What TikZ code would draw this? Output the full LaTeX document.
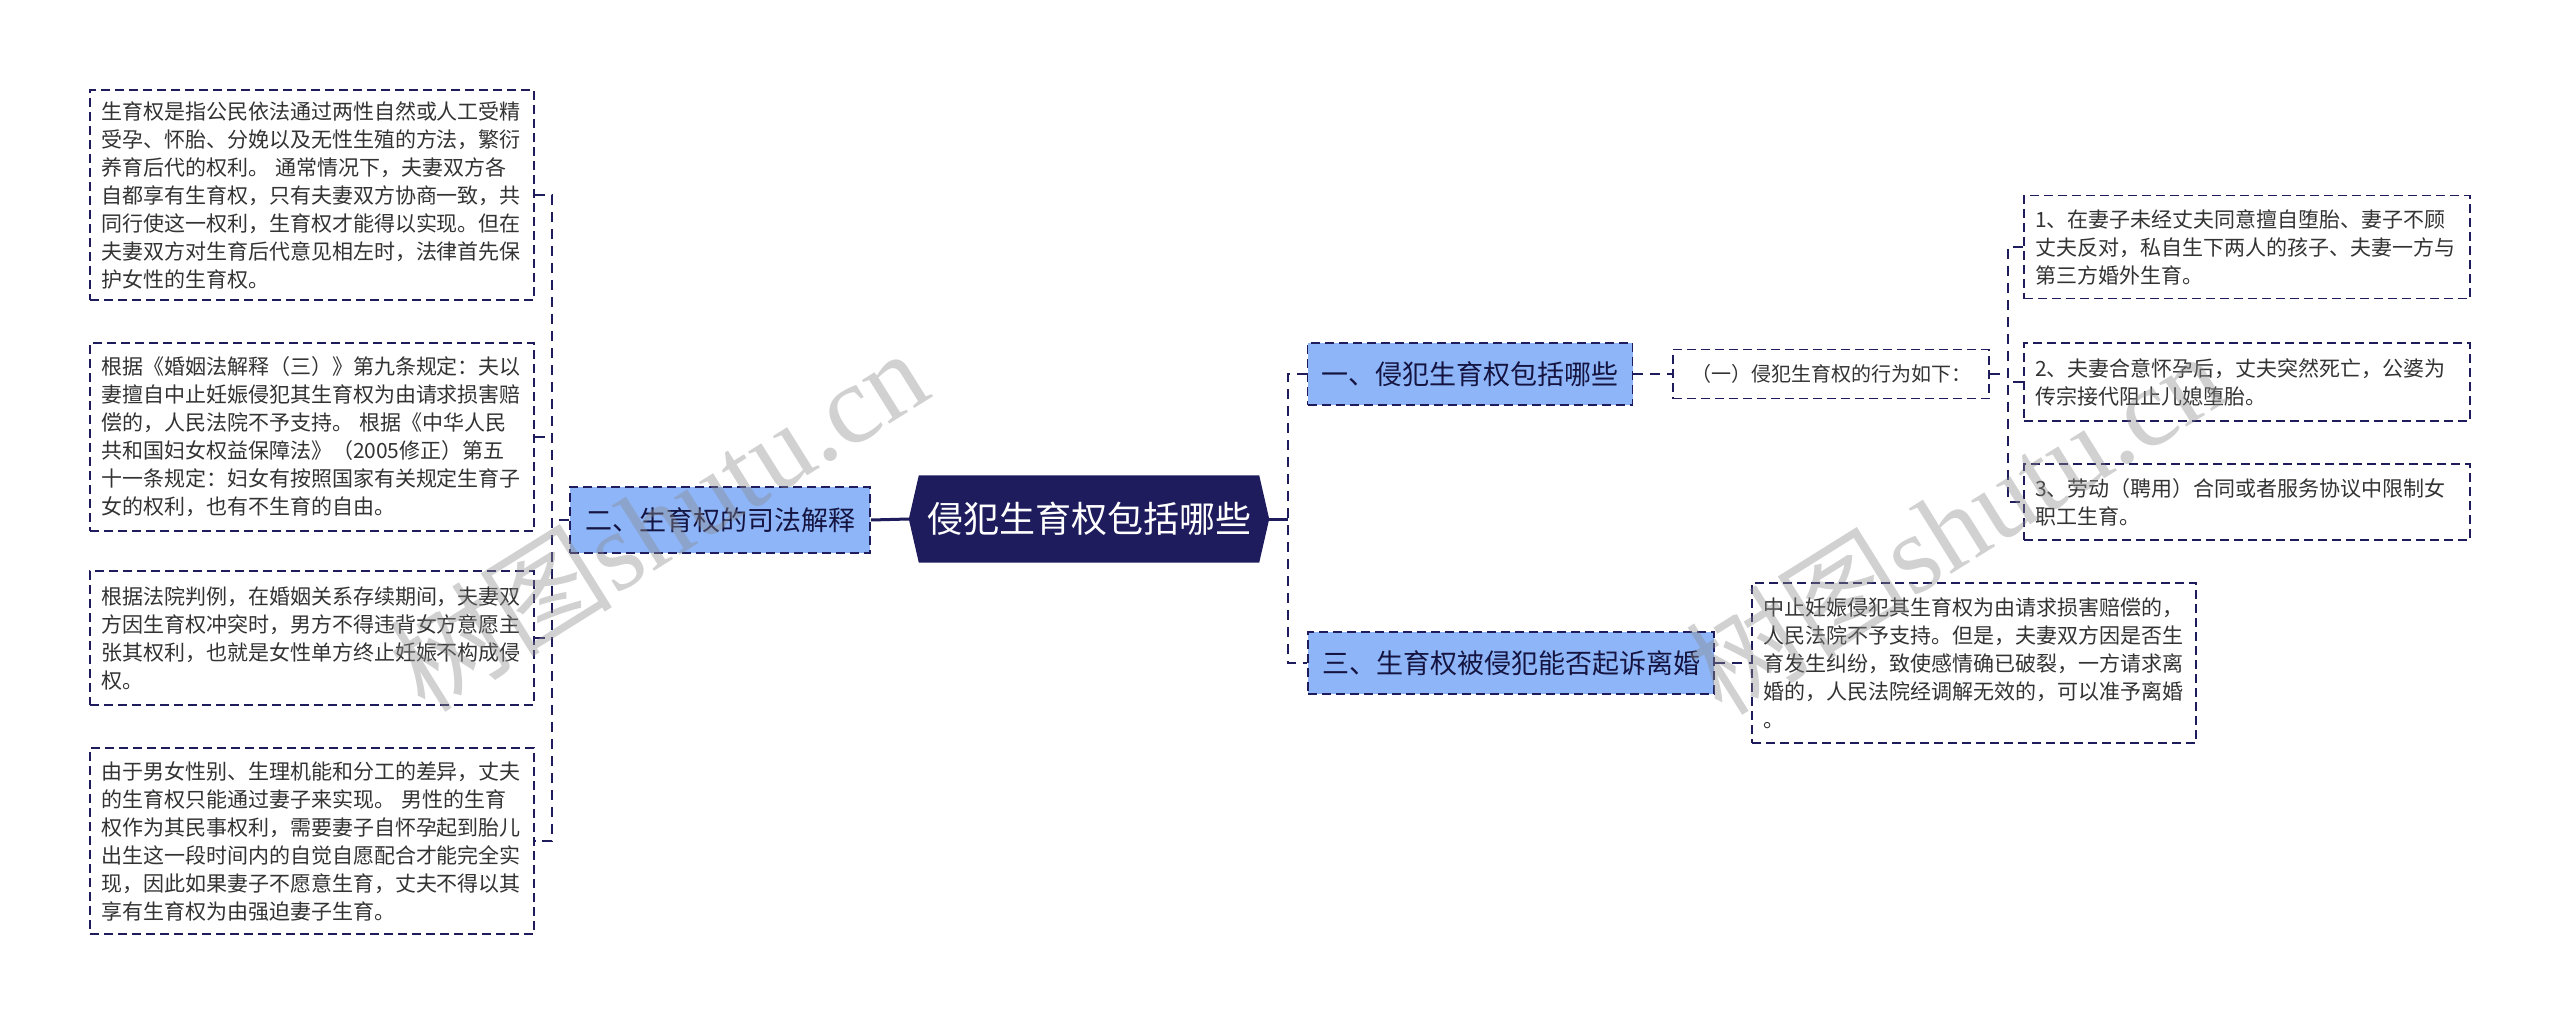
\documentclass[tikz,border=0pt]{standalone}
\usepackage{fontspec}
\setmainfont{Noto Sans CJK SC}
\newfontfamily\wmfont{Liberation Serif}
\usetikzlibrary{backgrounds}
\definecolor{navy}{HTML}{1E1C5C}
\definecolor{bluefill}{HTML}{8DB5F8}
\definecolor{txt}{HTML}{333333}
\tikzset{
  box/.style={draw=navy, dash pattern=on 9pt off 5pt, line width=1.8pt, fill=white, text=txt,
    align=left, inner xsep=11pt, inner ysep=0pt, font=\fontsize{21}{28}\selectfont},
  lbox/.style={box, text width=422pt},
  rbox/.style={box, text width=424pt},
  bluenode/.style={draw=navy, dash pattern=on 9pt off 5pt, line width=1.8pt, fill=bluefill,
    text=navy!70!black, inner xsep=0pt, inner ysep=0pt, font=\fontsize{27}{32}\selectfont},
  subnode/.style={draw=navy, dash pattern=on 9pt off 5pt, line width=1.8pt, fill=white, text=txt,
    inner sep=0pt, font=\fontsize{20}{24}\selectfont},
  rootnode/.style={text=white, inner sep=0pt, font=\fontsize{36}{40}\selectfont,
    minimum width=360pt, minimum height=87pt},
  conn/.style={draw=navy, line width=2.6pt, dash pattern=on 10pt off 7pt},
  solidconn/.style={draw=navy, line width=3pt},
  wm/.style={text=black!45, opacity=0.4, rotate=32, inner sep=0pt, font=\fontsize{112}{120}\selectfont}
}
\begin{document}
\begin{tikzpicture}[x=1pt,y=-1pt]
\useasboundingbox (0,0) rectangle (2560,1023);
\begin{scope}[on background layer]
\fill[white] (0,0) rectangle (2560,1023);
\end{scope}

% root
\node[rootnode] (root) at (1089,519) {侵犯生育权包括哪些};
\begin{scope}[on background layer]
\fill[navy] (root.west) -- ([xshift=10pt]root.north west) -- ([xshift=-10pt]root.north east)
  -- (root.east) -- ([xshift=-10pt]root.south east) -- ([xshift=10pt]root.south west) -- cycle;
\end{scope}

% level 1
\node[bluenode, minimum width=300pt, minimum height=66pt] (n2) at (720,520) {二、生育权的司法解释};
\node[bluenode, minimum width=325pt, minimum height=62pt] (n1) at (1470,374) {一、侵犯生育权包括哪些};
\node[bluenode, minimum width=406pt, minimum height=62pt] (n3) at (1511,663) {三、生育权被侵犯能否起诉离婚};

% left boxes
\node[lbox, minimum height=210pt] (L1) at (312,195) {生育权是指公民依法通过两性自然或人工受精\\受孕、怀胎、分娩以及无性生殖的方法，繁衍\\养育后代的权利。 通常情况下，夫妻双方各\\自都享有生育权，只有夫妻双方协商一致，共\\同行使这一权利，生育权才能得以实现。但在\\夫妻双方对生育后代意见相左时，法律首先保\\护女性的生育权。};
\node[lbox, minimum height=188pt] (L2) at (312,437) {根据《婚姻法解释（三）》第九条规定：夫以\\妻擅自中止妊娠侵犯其生育权为由请求损害赔\\偿的，人民法院不予支持。 根据《中华人民\\共和国妇女权益保障法》（2005修正）第五\\十一条规定：妇女有按照国家有关规定生育子\\女的权利，也有不生育的自由。};
\node[lbox, minimum height=134pt] (L3) at (312,638) {根据法院判例，在婚姻关系存续期间，夫妻双\\方因生育权冲突时，男方不得违背女方意愿主\\张其权利，也就是女性单方终止妊娠不构成侵\\权。};
\node[lbox, minimum height=186pt] (L4) at (312,841) {由于男女性别、生理机能和分工的差异，丈夫\\的生育权只能通过妻子来实现。 男性的生育\\权作为其民事权利，需要妻子自怀孕起到胎儿\\出生这一段时间内的自觉自愿配合才能完全实\\现，因此如果妻子不愿意生育，丈夫不得以其\\享有生育权为由强迫妻子生育。};

% right side
\node[subnode, minimum width=316pt, minimum height=49pt] (s1) at (1831,374) {（一）侵犯生育权的行为如下：};
\node[rbox, minimum height=103pt] (R1) at (2247,247) {1、在妻子未经丈夫同意擅自堕胎、妻子不顾\\丈夫反对，私自生下两人的孩子、夫妻一方与\\第三方婚外生育。};
\node[rbox, minimum height=78pt] (R2) at (2247,382) {2、夫妻合意怀孕后，丈夫突然死亡，公婆为\\传宗接代阻止儿媳堕胎。};
\node[rbox, minimum height=76pt] (R3) at (2247,502) {3、劳动（聘用）合同或者服务协议中限制女\\职工生育。};
\node[lbox, minimum height=160pt] (D3) at (1974,663) {中止妊娠侵犯其生育权为由请求损害赔偿的，\\人民法院不予支持。但是，夫妻双方因是否生\\育发生纠纷，致使感情确已破裂，一方请求离\\婚的，人民法院经调解无效的，可以准予离婚\\。};

% junction coordinates
\coordinate (lx) at (552,0);
\coordinate (rx) at (1288,0);
\coordinate (sx) at (2008,0);

% connectors left
\draw[solidconn] (root.west) -- (n2.east);
\draw[conn] (L1.east) -- (L1.east -| lx) -- (L4.east -| lx) -- (L4.east);
\draw[conn] (L2.east) -- (L2.east -| lx);
\draw[conn] (L3.east) -- (L3.east -| lx);
\draw[conn] (n2.west) -- (n2.west -| lx);

% connectors right
\draw[solidconn] (root.east) -- (root.east -| rx);
\draw[conn] (n1.west) -- (n1.west -| rx) -- (n3.west -| rx) -- (n3.west);
\draw[conn] (n1.east) -- (s1.west);
\draw[conn] (n3.east) -- (D3.west);
\draw[conn] (R1.west) -- (R1.west -| sx) -- (R3.west -| sx) -- (R3.west);
\draw[conn] (R2.west) -- (R2.west -| sx);
\draw[conn] (s1.east) -- (s1.east -| sx);

% watermarks
\node[wm] (wm1) at (658,519) {树图{\wmfont shutu.cn}};
\node[wm] (wm2) at (1955,522) {树图{\wmfont shutu.cn}};
\end{tikzpicture}
\end{document}
